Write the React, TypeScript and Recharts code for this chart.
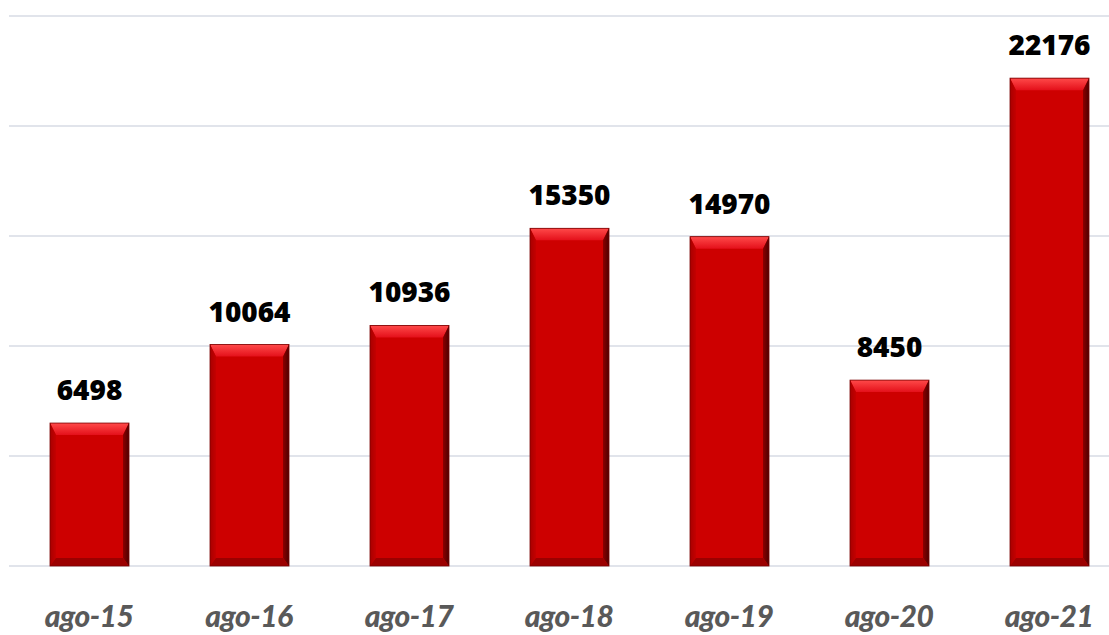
import { Bar, BarChart, CartesianGrid, LabelList, XAxis, YAxis } from "recharts";

const months = ["ago-15", "ago-16", "ago-17", "ago-18", "ago-19", "ago-20", "ago-21"];
const totals = [6498, 10064, 10936, 15350, 14970, 8450, 22176];
const yTicks = [0, 5000, 10000, 15000, 20000, 25000];

const data = months.map((month, i) => ({ month, total: totals[i] }));

// beveled red column, like an old office chart
function BevelBar(props: any) {
  const { x, y, width, height } = props;
  if (!height || height <= 0) return null;
  const side = 6;
  const top = 12;
  const bottom = 8;
  const x2 = x + width;
  const y2 = y + height;
  return (
    <g>
      <rect x={x} y={y} width={width} height={height} fill="#cd0000" />
      <polygon
        points={`${x},${y} ${x2},${y} ${x2 - side},${y + top} ${x + side},${y + top}`}
        fill="url(#bevelTop)"
      />
      <polygon
        points={`${x},${y} ${x + side},${y + top} ${x + side},${y2 - bottom} ${x},${y2}`}
        fill="url(#bevelLeft)"
      />
      <polygon
        points={`${x2},${y} ${x2},${y2} ${x2 - side},${y2 - bottom} ${x2 - side},${y + top}`}
        fill="url(#bevelRight)"
      />
      <polygon
        points={`${x},${y2} ${x + side},${y2 - bottom} ${x2 - side},${y2 - bottom} ${x2},${y2}`}
        fill="#9c0000"
      />
      <rect x={x} y={y} width={width} height={height} fill="none" stroke="#7a0000" strokeWidth={0.8} />
    </g>
  );
}

function MonthTick(props: any) {
  const { x, y, payload } = props;
  return (
    <text
      x={x}
      y={y + 53}
      textAnchor="middle"
      fill="#595959"
      fontFamily="Lato, sans-serif"
      fontWeight={900}
      fontStyle="italic"
      fontSize={30}
      letterSpacing={-0.5}
    >
      {payload.value}
    </text>
  );
}

export default function App() {
  return (
    <div style={{ position: "fixed", top: 0, left: 0, width: 1109, height: 635, overflow: "hidden", background: "#fff" }}>
      <BarChart
        width={1129}
        height={635}
        data={data}
        margin={{ top: 16, right: 0, bottom: 0, left: 9 }}
        barSize={79}
      >
        <defs>
          <linearGradient id="bevelTop" x1="0" y1="0" x2="0" y2="1">
            <stop offset="0%" stopColor="#ff4a4a" />
            <stop offset="100%" stopColor="#e4101a" />
          </linearGradient>
          <linearGradient id="bevelLeft" x1="0" y1="0" x2="1" y2="0">
            <stop offset="0%" stopColor="#a80000" />
            <stop offset="100%" stopColor="#c40000" />
          </linearGradient>
          <linearGradient id="bevelRight" x1="0" y1="0" x2="1" y2="0">
            <stop offset="0%" stopColor="#8c0000" />
            <stop offset="100%" stopColor="#4e0000" />
          </linearGradient>
        </defs>
        <CartesianGrid vertical={false} stroke="#e1e4eb" strokeWidth={2} />
        <XAxis
          dataKey="month"
          height={69}
          axisLine={false}
          tickLine={false}
          interval={0}
          tick={<MonthTick />}
        />
        <YAxis hide domain={[0, 25000]} ticks={yTicks} />
        <Bar dataKey="total" shape={<BevelBar />} isAnimationActive={false}>
          <LabelList
            dataKey="total"
            position="top"
            offset={23}
            fill="#000"
            fontFamily="'Open Sans', sans-serif"
            fontWeight={800}
            fontSize={28}
          />
        </Bar>
      </BarChart>
    </div>
  );
}
